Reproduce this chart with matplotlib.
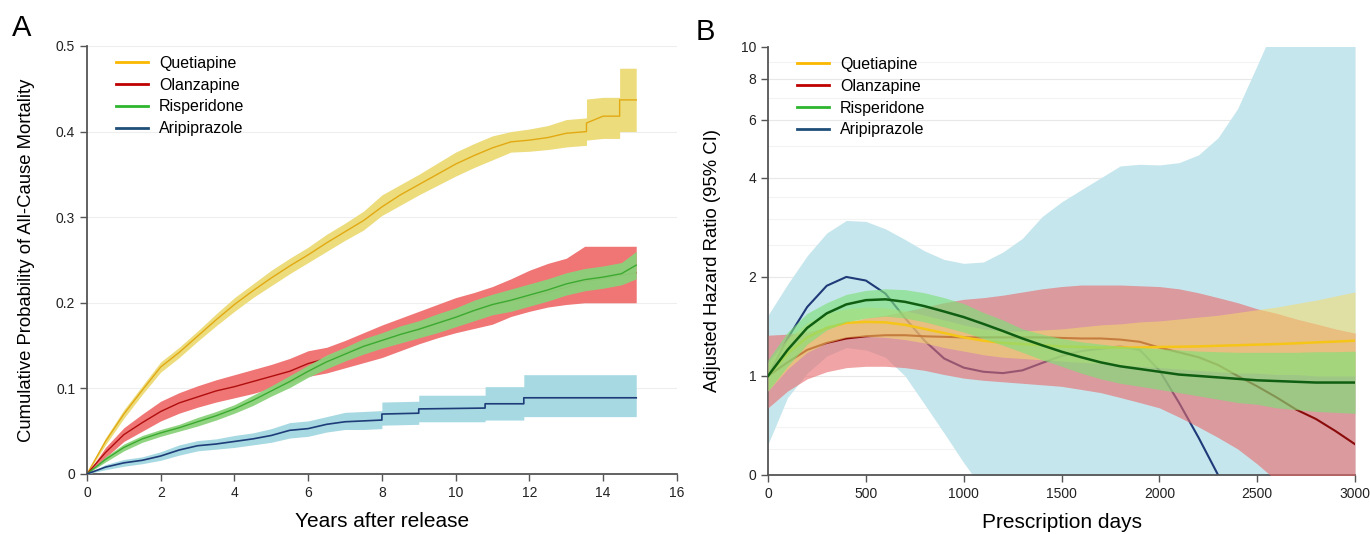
import numpy as np
import matplotlib
matplotlib.use("Agg")
import matplotlib.pyplot as plt
from matplotlib.lines import Line2D
from matplotlib.ticker import FixedLocator, NullLocator, NullFormatter

plt.rcParams["font.family"] = ["Liberation Sans", "DejaVu Sans"]

# ── Panel A: cumulative mortality (Kaplan-Meier style) ─────────────────────
years = [0, 0.5, 1, 1.5, 2, 2.5, 3, 3.5, 4, 4.5, 5, 5.5, 6, 6.5, 7, 7.5, 8,
         8.5, 9, 9.5, 10, 10.5, 11, 11.5, 12, 12.5, 13, 13.5, 14, 14.5, 14.9]

que_years = [0, 0.5, 1, 1.5, 2, 2.5, 3, 3.5, 4, 4.5, 5, 5.5, 6, 6.5, 7, 7.5,
             8, 8.5, 9, 9.5, 10, 10.5, 11, 11.5, 12, 12.5, 13, 13.55, 13.55,
             14.0, 14.45, 14.45, 14.9]
que_est = [0, 0.038, 0.07, 0.098, 0.125, 0.142, 0.161, 0.18, 0.198, 0.214,
           0.229, 0.243, 0.256, 0.27, 0.283, 0.296, 0.312, 0.326, 0.338,
           0.35, 0.362, 0.372, 0.381, 0.388, 0.39, 0.393, 0.398, 0.400,
           0.410, 0.418, 0.418, 0.437, 0.437]
que_lo = [0, 0.034, 0.065, 0.093, 0.119, 0.136, 0.155, 0.173, 0.19, 0.206,
          0.22, 0.234, 0.247, 0.26, 0.273, 0.285, 0.302, 0.314, 0.326,
          0.337, 0.348, 0.358, 0.367, 0.376, 0.377, 0.379, 0.382, 0.384,
          0.39, 0.392, 0.392, 0.40, 0.40]
que_hi = [0, 0.042, 0.075, 0.103, 0.131, 0.148, 0.167, 0.187, 0.206, 0.222,
          0.238, 0.252, 0.265, 0.28, 0.293, 0.307, 0.326, 0.338, 0.35,
          0.363, 0.376, 0.386, 0.395, 0.40, 0.403, 0.407, 0.414, 0.416,
          0.438, 0.44, 0.44, 0.474, 0.474]

ola_est = [0, 0.025, 0.046, 0.06, 0.073, 0.083, 0.09, 0.097, 0.102, 0.108,
           0.114, 0.12, 0.129, 0.135, 0.142, 0.15, 0.156, 0.163, 0.17,
           0.177, 0.184, 0.19, 0.197, 0.202, 0.206, 0.212, 0.218, 0.225,
           0.228, 0.232, 0.235]
ola_lo = [0, 0.019, 0.038, 0.05, 0.062, 0.071, 0.078, 0.084, 0.089, 0.094,
          0.1, 0.106, 0.114, 0.118, 0.124, 0.13, 0.136, 0.144, 0.152,
          0.159, 0.165, 0.17, 0.175, 0.184, 0.19, 0.195, 0.198, 0.2, 0.2,
          0.2, 0.2]
ola_hi = [0, 0.031, 0.054, 0.07, 0.085, 0.095, 0.103, 0.11, 0.116, 0.122,
          0.128, 0.135, 0.144, 0.148, 0.156, 0.165, 0.174, 0.182, 0.19,
          0.198, 0.206, 0.212, 0.219, 0.228, 0.238, 0.246, 0.252, 0.266,
          0.266, 0.266, 0.266]

ris_est = [0, 0.017, 0.031, 0.041, 0.048, 0.054, 0.061, 0.068, 0.076,
           0.086, 0.097, 0.108, 0.12, 0.131, 0.14, 0.149, 0.156, 0.163,
           0.169, 0.176, 0.183, 0.191, 0.198, 0.203, 0.209, 0.215, 0.222,
           0.227, 0.23, 0.234, 0.244]
ris_lo = [0, 0.014, 0.027, 0.037, 0.044, 0.05, 0.056, 0.063, 0.071, 0.08,
          0.091, 0.101, 0.113, 0.123, 0.132, 0.14, 0.147, 0.153, 0.159,
          0.165, 0.172, 0.179, 0.186, 0.19, 0.196, 0.202, 0.209, 0.214,
          0.217, 0.221, 0.228]
ris_hi = [0, 0.02, 0.035, 0.045, 0.052, 0.058, 0.066, 0.073, 0.081, 0.092,
          0.103, 0.115, 0.127, 0.139, 0.148, 0.158, 0.165, 0.173, 0.179,
          0.187, 0.194, 0.203, 0.21, 0.216, 0.222, 0.228, 0.235, 0.24,
          0.243, 0.247, 0.26]

ari_years = [0, 0.5, 1, 1.5, 2, 2.5, 3, 3.5, 4, 4.5, 5, 5.5, 6, 6.5, 7, 7.5,
             8.0, 8.0, 9.0, 9.0, 10.8, 10.8, 11.85, 11.85, 14.9]
ari_est = [0, 0.008, 0.013, 0.016, 0.021, 0.028, 0.033, 0.035, 0.038, 0.041,
           0.045, 0.051, 0.053, 0.058, 0.061, 0.062, 0.063, 0.07, 0.071,
           0.076, 0.077, 0.082, 0.082, 0.089, 0.089]
ari_lo = [0, 0.005, 0.009, 0.012, 0.016, 0.022, 0.027, 0.029, 0.031, 0.034,
          0.037, 0.042, 0.044, 0.049, 0.052, 0.052, 0.053, 0.057, 0.058,
          0.061, 0.061, 0.063, 0.063, 0.067, 0.067]
ari_hi = [0, 0.011, 0.017, 0.02, 0.026, 0.034, 0.039, 0.041, 0.045, 0.048,
          0.053, 0.06, 0.062, 0.067, 0.072, 0.073, 0.074, 0.084, 0.085,
          0.092, 0.092, 0.102, 0.102, 0.116, 0.116]

# ── Panel B: adjusted hazard ratio by prescription days ──────────────────
days = list(range(0, 3001, 100))

ari_hr = [1.0, 1.3, 1.62, 1.88, 2.0, 1.95, 1.78, 1.5, 1.28, 1.13, 1.06,
          1.03, 1.02, 1.04, 1.095, 1.15, 1.19, 1.21, 1.23, 1.2, 1.04, 0.83,
          0.65, 0.5, np.nan, np.nan, np.nan, np.nan, np.nan, np.nan, np.nan]
ari_hr_hi = [1.53, 1.9, 2.32, 2.72, 2.97, 2.95, 2.8, 2.6, 2.4, 2.26, 2.2,
             2.22, 2.38, 2.62, 3.05, 3.38, 3.68, 4.0, 4.35, 4.4, 4.38, 4.45,
             4.7, 5.3, 6.5, 8.8, 12, 12, 12, 12, 12]
ari_hr_lo = [0.62, 0.86, 1.02, 1.15, 1.22, 1.2, 1.14, 1.0, 0.82, 0.67,
             0.545, 0.45, 0.4, 0.3, 0.3, 0.3, 0.3, 0.3, 0.3, 0.3, 0.3, 0.3,
             0.3, 0.3, 0.3, 0.3, 0.3, 0.3, 0.3, 0.3, 0.3]

ola_hr = [1.0, 1.1, 1.2, 1.26, 1.3, 1.32, 1.33, 1.33, 1.32, 1.315, 1.31,
          1.31, 1.31, 1.31, 1.31, 1.305, 1.3, 1.3, 1.29, 1.27, 1.22, 1.18,
          1.14, 1.08, 1.0, 0.93, 0.86, 0.79, 0.74, 0.68, 0.62]
ola_hr_hi = [1.33, 1.34, 1.36, 1.4, 1.45, 1.5, 1.53, 1.57, 1.62, 1.67,
             1.71, 1.73, 1.76, 1.8, 1.84, 1.87, 1.89, 1.89, 1.89, 1.88,
             1.87, 1.84, 1.79, 1.73, 1.67, 1.6, 1.55, 1.49, 1.44, 1.39,
             1.35]
ola_hr_lo = [0.8, 0.9, 0.98, 1.03, 1.06, 1.07, 1.07, 1.06, 1.04, 1.01,
             0.985, 0.97, 0.96, 0.95, 0.94, 0.93, 0.91, 0.89, 0.86, 0.83,
             0.8, 0.75, 0.7, 0.65, 0.6, 0.54, 0.48, 0.42, 0.38, 0.35, 0.32]

que_hr = [1.0, 1.17, 1.31, 1.4, 1.45, 1.46, 1.455, 1.43, 1.39, 1.35, 1.31,
          1.28, 1.26, 1.25, 1.24, 1.23, 1.225, 1.22, 1.22, 1.22, 1.225,
          1.227, 1.23, 1.235, 1.24, 1.245, 1.25, 1.257, 1.265, 1.272, 1.28]
que_hr_hi = [1.1, 1.3, 1.45, 1.55, 1.6, 1.62, 1.61, 1.58, 1.53, 1.48, 1.43,
             1.39, 1.37, 1.37, 1.38, 1.39, 1.41, 1.43, 1.44, 1.46, 1.47,
             1.49, 1.51, 1.53, 1.56, 1.59, 1.62, 1.66, 1.7, 1.75, 1.8]
que_hr_lo = [0.9, 1.05, 1.18, 1.26, 1.31, 1.32, 1.31, 1.29, 1.26, 1.22,
             1.19, 1.16, 1.14, 1.13, 1.12, 1.11, 1.1, 1.09, 1.08, 1.07,
             1.06, 1.05, 1.04, 1.03, 1.02, 1.02, 1.01, 1.01, 1.0, 1.0, 1.0]

ris_hr = [1.0, 1.2, 1.4, 1.55, 1.65, 1.7, 1.71, 1.68, 1.63, 1.57, 1.51,
          1.44, 1.37, 1.3, 1.24, 1.185, 1.14, 1.1, 1.07, 1.05, 1.03, 1.01,
          1.0, 0.99, 0.98, 0.97, 0.965, 0.96, 0.955, 0.955, 0.955]
ris_hr_hi = [1.12, 1.36, 1.55, 1.67, 1.77, 1.82, 1.84, 1.83, 1.79, 1.73,
             1.66, 1.56, 1.48, 1.39, 1.34, 1.3, 1.27, 1.25, 1.23, 1.22,
             1.21, 1.2, 1.19, 1.185, 1.18, 1.18, 1.18, 1.18, 1.185, 1.185,
             1.19]
ris_hr_lo = [0.9, 1.07, 1.25, 1.38, 1.46, 1.5, 1.52, 1.5, 1.46, 1.41, 1.36,
             1.3, 1.24, 1.18, 1.12, 1.07, 1.02, 0.98, 0.95, 0.93, 0.91,
             0.89, 0.87, 0.85, 0.83, 0.82, 0.8, 0.79, 0.78, 0.775, 0.77]

drugs = ["Quetiapine", "Olanzapine", "Risperidone", "Aripiprazole"]
legend_colors = ["#fbb800", "#c00000", "#2db52d", "#1f4e79"]

AXIS_C = "#555555"


def style_axes(ax):
    for s in ("top", "right"):
        ax.spines[s].set_visible(False)
    for s in ("left", "bottom"):
        ax.spines[s].set_color(AXIS_C)
        ax.spines[s].set_linewidth(1.3)
    ax.tick_params(direction="out", length=5, width=1, color=AXIS_C,
                   labelsize=10, labelcolor="#222222")


def add_legend(ax):
    handles = [Line2D([0], [0], color=c, lw=2) for c in legend_colors]
    ax.legend(handles, drugs, loc="upper left", bbox_to_anchor=(0.025, 1.01),
              frameon=False, fontsize=11.5, handlelength=2.0,
              handletextpad=0.7, labelspacing=0.42)


fig = plt.figure(figsize=(13.7, 5.34), dpi=100)

# ── A ──
axA = fig.add_axes([0.0635, 0.1124, 0.4305, 0.8015])
style_axes(axA)
for yv in [0.1, 0.2, 0.3, 0.4, 0.5]:
    axA.axhline(yv, color="#eeeeee", lw=0.8, zorder=0)

axA.fill_between(que_years, que_lo, que_hi, color="#ecdc7c", lw=0, zorder=1)
axA.plot(que_years, que_est, color="#e2a912", lw=1.0, zorder=2)
axA.fill_between(years, ola_lo, ola_hi, color="#f07676", lw=0, zorder=3)
axA.plot(years, ola_est, color="#b00d0d", lw=1.0, zorder=4)
axA.fill_between(years, ris_lo, ris_hi, color="#8ad27a", lw=0, alpha=0.95,
                 zorder=5)
axA.plot(years, ris_est, color="#3caa30", lw=1.0, zorder=6)
axA.fill_between(ari_years, ari_lo, ari_hi, color="#a6d9e2", lw=0, zorder=5)
axA.plot(ari_years, ari_est, color="#1e3c78", lw=1.2, zorder=6)

axA.set_xlim(0, 16)
axA.set_ylim(0, 0.5)
axA.set_xticks(range(0, 17, 2))
axA.set_yticks([0, 0.1, 0.2, 0.3, 0.4, 0.5])
axA.set_yticklabels(["0", "0.1", "0.2", "0.3", "0.4", "0.5"])
axA.set_xlabel("Years after release", fontsize=15, labelpad=9)
axA.set_ylabel("Cumulative Probability of All-Cause Mortality", fontsize=13.3,
               labelpad=15)
add_legend(axA)

# ── B ──
axB = fig.add_axes([0.5606, 0.1105, 0.4285, 0.8015])
style_axes(axB)
axB.set_yscale("log")
for yv in [0.6, 0.7, 0.8, 0.9, 1.5, 2.5, 3, 3.5, 5, 7, 9]:
    axB.axhline(yv, color="#f3f3f3", lw=0.8, zorder=0)
for yv in [1, 2, 4, 6, 8]:
    axB.axhline(yv, color="#e8e8e8", lw=0.8, zorder=0)

axB.fill_between(days, ari_hr_lo, ari_hr_hi, color="#c6e6ed", lw=0, zorder=1)
axB.plot(days, ari_hr, color="#1f3a78", lw=1.5, zorder=2)
axB.fill_between(days, ola_hr_lo, ola_hr_hi, color="#e8686a", alpha=0.6,
                 lw=0, zorder=3)
axB.plot(days, ola_hr, color="#8b0a0a", lw=1.5, zorder=4)
axB.fill_between(days, que_hr_lo, que_hr_hi, color="#f6dc6a", alpha=0.55,
                 lw=0, zorder=5)
axB.plot(days, que_hr, color="#f5c518", lw=1.8, zorder=6)
axB.fill_between(days, ris_hr_lo, ris_hr_hi, color="#7fe07a", alpha=0.65,
                 lw=0, zorder=7)
axB.plot(days, ris_hr, color="#0f5e12", lw=1.8, zorder=8)

axB.set_xlim(0, 3000)
axB.set_ylim(0.5, 10)
axB.yaxis.set_major_locator(FixedLocator([0.5, 1, 2, 4, 6, 8, 10]))
axB.yaxis.set_minor_locator(NullLocator())
axB.yaxis.set_minor_formatter(NullFormatter())
axB.set_yticklabels(["0", "1", "2", "4", "6", "8", "10"])
axB.set_xticks(range(0, 3001, 500))
axB.set_xlabel("Prescription days", fontsize=15, labelpad=9)
axB.set_ylabel("Adjusted Hazard Ratio (95% CI)", fontsize=13.3, labelpad=14)
add_legend(axB)

fig.text(0.009, 0.948, "A", fontsize=21, va="center", ha="left")
fig.text(0.508, 0.940, "B", fontsize=21, va="center", ha="left")

fig.savefig("out.png", dpi=100)
